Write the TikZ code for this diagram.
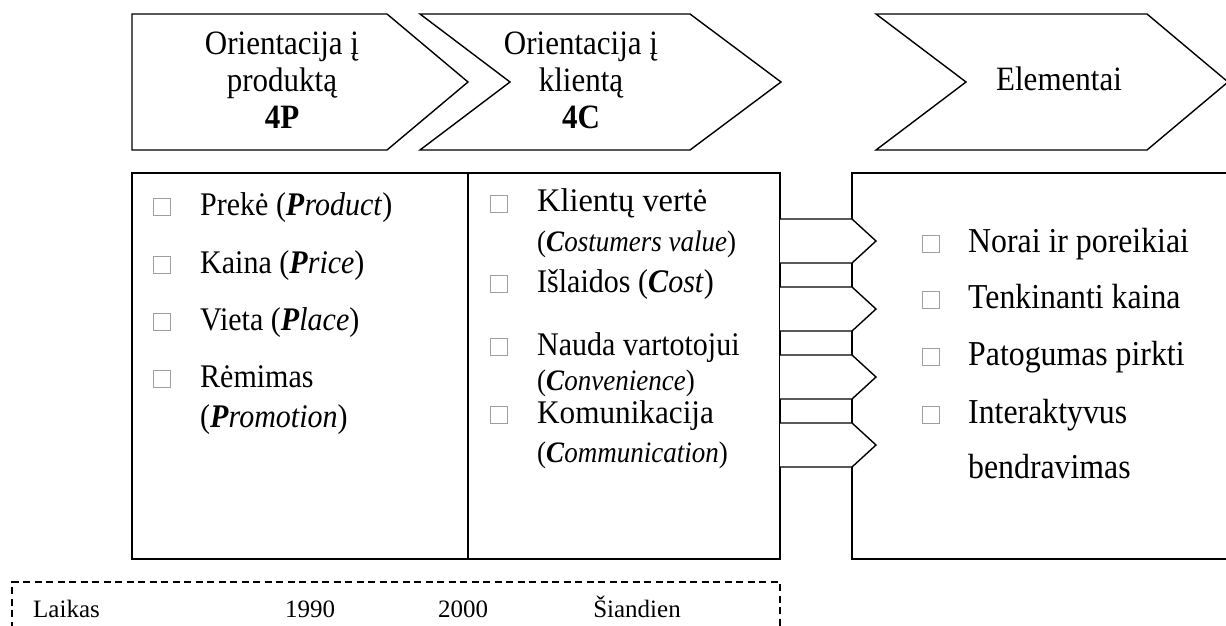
\documentclass[tikz,border=0pt]{standalone}
\usepackage{fontspec}
\setmainfont{Liberation Serif}
\newcommand{\Tl}[1]{\scalebox{1}[1.1]{#1}}
\newcommand{\Tw}[2]{\scalebox{#1}[1.1]{#2}}
\begin{document}
\begin{tikzpicture}[x=1pt,y=-1pt,
  shp/.style={draw, line width=1.4pt, fill=white, line join=miter},
  dsh/.style={draw, line width=1.2pt, dash pattern=on 7pt off 4.5pt},
  bul/.style={draw=gray!75, line width=0.6pt},
  head/.style={anchor=base, inner sep=0pt, font=\fontsize{31}{37}\selectfont},
  txt/.style={anchor=base west, inner sep=0pt, font=\fontsize{30}{36}\selectfont},
  txe/.style={anchor=base west, inner sep=0pt, font=\fontsize{31.8}{36}\selectfont},
  sub/.style={anchor=base west, inner sep=0pt, font=\fontsize{27}{32}\selectfont},
  tim/.style={anchor=base, inner sep=0pt, font=\fontsize{25}{30}\selectfont}]
\useasboundingbox (0,0) rectangle (1226,626);
\clip (0,0) rectangle (1226,626);
\fill[white] (0,0) rectangle (1226,626);

% top chevrons
\draw[shp] (132,14) -- (387,14) -- (468,82) -- (387,150) -- (132,150) -- cycle;
\draw[shp] (420,14) -- (690,14) -- (781,82) -- (690,150) -- (420,150) -- (510,82) -- cycle;
\draw[shp] (876,14) -- (1147,14) -- (1228,82) -- (1147,150) -- (876,150) -- (966,82) -- cycle;

\node[head] (h1a) at (282,55) {\Tl{Orientacija į}};
\node[head] (h1b) at (282,92) {\Tl{produktą}};
\node[head] (h1c) at (282,128) {\Tl{\textbf{4P}}};
\node[head] (h2a) at (581,55) {\Tl{Orientacija į}};
\node[head] (h2b) at (581,92) {\Tl{klientą}};
\node[head] (h2c) at (581,128) {\Tl{\textbf{4C}}};
\node[head] (h3) at (1059,90) {\Tl{Elementai}};

% boxes
\draw[shp] (132,173) rectangle (468,559);
\draw[shp] (468,173) rectangle (780,559);
\draw[shp] (852,173) rectangle (1240,559);

% connector arrows between 4C and elements
\foreach \t/\m/\b in {219/241/263, 287/309/331, 355/377/399, 423/445/467}{
  \draw[shp] (780,\t) -- (852,\t) -- (876,\m) -- (852,\b) -- (780,\b);
}

% bullets
\foreach \x/\y in {153/215, 153/273, 153/330, 153/387,
                   490/212, 490/292, 490/355, 490/423,
                   922/252, 922/308, 922/365, 922/423}{
  \draw[bul] (\x,\y) rectangle ++(17,-17);
}

% 4P list
\node[txt] (p1) at (200,215) {\Tl{Prekė (\textbf{\textit{P}}\textit{roduct})}};
\node[txt] (p2) at (200,273) {\Tl{Kaina (\textbf{\textit{P}}\textit{rice})}};
\node[txt] (p3) at (200,330) {\Tl{Vieta (\textbf{\textit{P}}\textit{lace})}};
\node[txt] (p4) at (200,387) {\Tl{Rėmimas}};
\node[txt] (p4b) at (200,427) {\Tl{(\textbf{\textit{P}}\textit{romotion})}};

% 4C list
\node[txt] (c1) at (537,211) {\Tw{1.08}{Klientų vertė}};
\node[sub] (c1b) at (537,251) {\Tl{(\textbf{\textit{C}}\textit{ostumers value})}};
\node[txt] (c2) at (537,292) {\Tl{Išlaidos (\textbf{\textit{C}}\textit{ost})}};
\node[txt] (c3) at (537,355) {\Tl{Nauda vartotojui}};
\node[sub] (c3b) at (537,390) {\Tl{(\textbf{\textit{C}}\textit{onvenience})}};
\node[txt] (c4) at (537,423) {\Tw{1.04}{Komunikacija}};
\node[sub] (c4b) at (537,462) {\Tl{(\textbf{\textit{C}}\textit{ommunication})}};

% elements list
\node[txe] (e1) at (968,252) {\Tl{Norai ir poreikiai}};
\node[txe] (e2) at (968,308) {\Tl{Tenkinanti kaina}};
\node[txe] (e3) at (968,365) {\Tl{Patogumas pirkti}};
\node[txe] (e4) at (968,423) {\Tl{Interaktyvus}};
\node[txe] (e4b) at (968,478) {\Tl{bendravimas}};

% time line
\draw[dsh] (12,640) -- (12,582) -- (780,582) -- (780,640);
\node[tim, anchor=base west] (t0) at (33,617) {Laikas};
\node[tim] (t1) at (310,617) {1990};
\node[tim] (t2) at (463,617) {2000};
\node[tim] (t3) at (637,617) {Šiandien};
\end{tikzpicture}
\end{document}
